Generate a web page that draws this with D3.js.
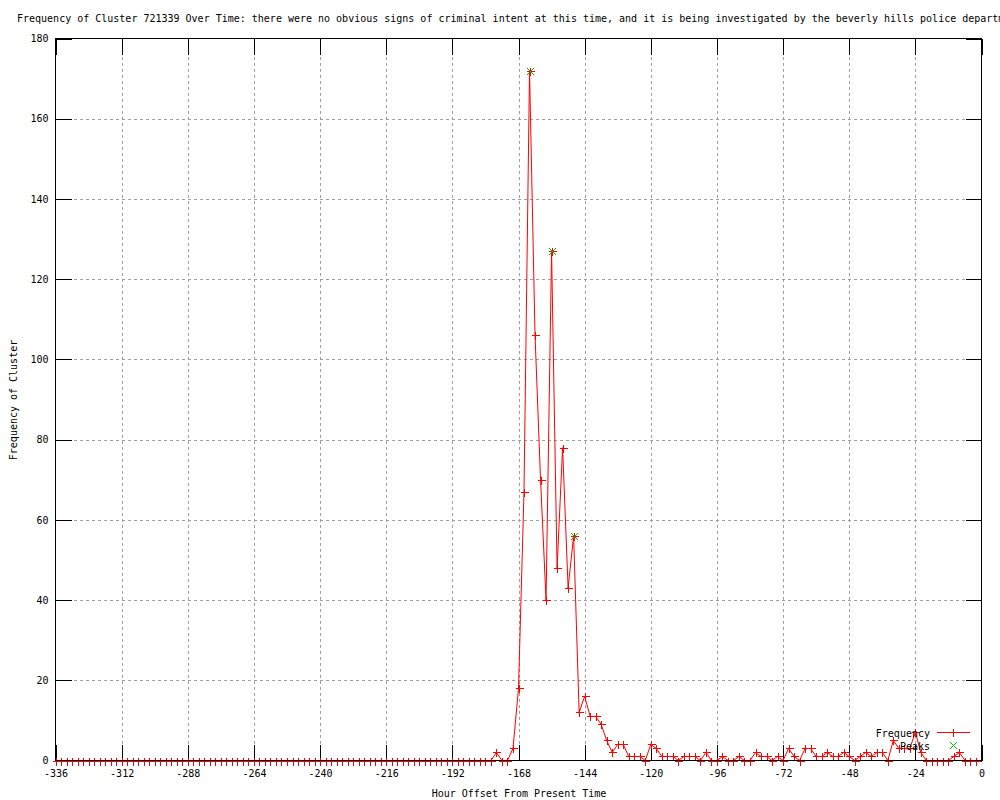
<!DOCTYPE html>
<html>
<head>
<meta charset="utf-8">
<script src="https://cdn.jsdelivr.net/npm/d3@7"></script>
<style>
  html, body { margin: 0; padding: 0; background: #fff; }
  svg { display: block; }
  text { font-family: "DejaVu Sans Mono", "Liberation Mono", monospace; font-size: 10px; fill: #000; }
</style>
</head>
<body>
<svg id="chart" width="1000" height="800"></svg>
<script>
// ---- data ----
const titleText = "Frequency of Cluster 721339 Over Time: there were no obvious signs of criminal intent at this time, and it is being investigated by the beverly hills police department";
const xLabel = "Hour Offset From Present Time";
const yLabel = "Frequency of Cluster";
const seriesNames = ["Frequency", "Peaks"];

// hour offsets: 2-hour buckets from -336 to -2
const hours = d3.range(-336, 0, 2);
const frequency = [
  0,0,0,0,0,0,0,0,0,0, 0,0,0,0,0,0,0,0,0,0,
  0,0,0,0,0,0,0,0,0,0, 0,0,0,0,0,0,0,0,0,0,
  0,0,0,0,0,0,0,0,0,0, 0,0,0,0,0,0,0,0,0,0,
  0,0,0,0,0,0,0,0,0,0, 0,0,0,0,0,0,0,0,0,0,
  2,0,0,3,18,67,172,106,70,40,
  127,48,78,43,56,12,16,11,11,9,
  5,2,4,4,1,1,1,0,4,3,
  1,1,1,0,1,1,1,0,2,0,
  0,1,0,0,1,0,0,2,1,1,
  0,1,0,3,1,0,3,3,1,1,
  2,1,1,2,1,0,1,2,1,2,
  2,0,5,3,3,3,7,2,0,0,
  0,0,0,1,2,0,0,0
];
const peakHours = [-164, -156, -148];
const peakValues = [172, 127, 56];

const xTicks = [-336,-312,-288,-264,-240,-216,-192,-168,-144,-120,-96,-72,-48,-24,0];
const yTicks = [0,20,40,60,80,100,120,140,160,180];

// ---- layout ----
const svg = d3.select("#chart");
const L = 55.5, R = 981.5, T = 38.5, B = 760.5;
const x = d3.scaleLinear().domain([-336, 0]).range([L, R]);
const y = d3.scaleLinear().domain([0, 180]).range([B, T]);
const tickLen = 16;

// grid
const grid = svg.append("g").attr("stroke", "#a0a0a0").attr("stroke-width", 1)
  .attr("stroke-dasharray", "3,3").attr("shape-rendering", "crispEdges");
xTicks.filter(d => d > -336 && d < 0).forEach(d => {
  grid.append("line").attr("x1", Math.round(x(d)) + 0.5).attr("x2", Math.round(x(d)) + 0.5)
    .attr("y1", T).attr("y2", B);
});
yTicks.filter(d => d > 0 && d < 180).forEach(d => {
  grid.append("line").attr("y1", Math.round(y(d)) + 0.5).attr("y2", Math.round(y(d)) + 0.5)
    .attr("x1", L).attr("x2", R);
});

// axes via d3 (tick labels), ticks drawn inward
const xAxis = d3.axisBottom(x).tickValues(xTicks).tickSize(0).tickPadding(10).tickFormat(d => String(d));
const gx = svg.append("g").attr("transform", `translate(0,${B})`).call(xAxis);
gx.select(".domain").remove();
gx.selectAll("text").attr("font-family", null).attr("font-size", null).attr("dy", "0.71em").attr("y", 9);

const yAxis = d3.axisLeft(y).tickValues(yTicks).tickSize(0).tickPadding(7).tickFormat(d => String(d));
const gy = svg.append("g").attr("transform", `translate(${L},0)`).call(yAxis);
gy.select(".domain").remove();
gy.selectAll("text").attr("font-family", null).attr("font-size", null);

// inward ticks (all four sides)
const ticks = svg.append("g").attr("stroke", "#000").attr("stroke-width", 1).attr("shape-rendering", "crispEdges");
xTicks.forEach(d => {
  const px = Math.round(x(d)) + 0.5;
  ticks.append("line").attr("x1", px).attr("x2", px).attr("y1", B).attr("y2", B - tickLen);
  ticks.append("line").attr("x1", px).attr("x2", px).attr("y1", T).attr("y2", T + tickLen);
});
yTicks.forEach(d => {
  const py = Math.round(y(d)) + 0.5;
  ticks.append("line").attr("x1", L).attr("x2", L + tickLen).attr("y1", py).attr("y2", py);
  ticks.append("line").attr("x1", R).attr("x2", R - tickLen).attr("y1", py).attr("y2", py);
});

// series data
const pts = hours.map((h, i) => ({ h, v: frequency[i] }));
const peaks = peakHours.map((h, i) => ({ h, v: peakValues[i] }));

// frequency line
const line = d3.line().x(d => x(d.h)).y(d => y(d.v));
svg.append("path").datum(pts).attr("d", line)
  .attr("fill", "none").attr("stroke", "#ff0000").attr("stroke-width", 1);

// plus markers
const ms = 4;
const plusPath = (cx, cy) => `M${cx - ms},${cy}H${cx + ms}M${cx},${cy - ms}V${cy + ms}`;
const crossPath = (cx, cy) => `M${cx - 3.5},${cy - 3.5}L${cx + 3.5},${cy + 3.5}M${cx - 3.5},${cy + 3.5}L${cx + 3.5},${cy - 3.5}`;
svg.append("g").selectAll("path").data(pts).join("path")
  .attr("d", d => plusPath(Math.round(x(d.h)) + 0.5, Math.round(y(d.v)) + 0.5))
  .attr("stroke", "#ff0000").attr("stroke-width", 1).attr("fill", "none").attr("shape-rendering", "crispEdges");

// peak markers
svg.append("g").selectAll("path").data(peaks).join("path")
  .attr("d", d => crossPath(Math.round(x(d.h)) + 0.5, Math.round(y(d.v)) + 0.5))
  .attr("stroke", "#00c000").attr("stroke-width", 1).attr("fill", "none");

// border
svg.append("rect").attr("x", L).attr("y", T).attr("width", R - L).attr("height", B - T)
  .attr("fill", "none").attr("stroke", "#000").attr("stroke-width", 1).attr("shape-rendering", "crispEdges");

// legend
const lg = svg.append("g");
lg.append("text").attr("x", 930).attr("y", 733).attr("dy", "0.35em").attr("text-anchor", "end").text(seriesNames[0]);
lg.append("line").attr("x1", 937).attr("x2", 970).attr("y1", 732.5).attr("y2", 732.5)
  .attr("stroke", "#ff0000").attr("shape-rendering", "crispEdges");
lg.append("path").attr("d", plusPath(953.5, 732.5)).attr("stroke", "#ff0000").attr("shape-rendering", "crispEdges");
lg.append("text").attr("x", 930).attr("y", 746).attr("dy", "0.35em").attr("text-anchor", "end").text(seriesNames[1]);
lg.append("path").attr("d", crossPath(953.5, 745.5)).attr("stroke", "#00c000").attr("fill", "none");

// titles
svg.append("text").attr("x", 17).attr("y", 22).text(titleText);
svg.append("text").attr("x", 519).attr("y", 797).attr("text-anchor", "middle").text(xLabel);
svg.append("text").attr("transform", "translate(17,400) rotate(-90)").attr("text-anchor", "middle").text(yLabel);
</script>
</body>
</html>
